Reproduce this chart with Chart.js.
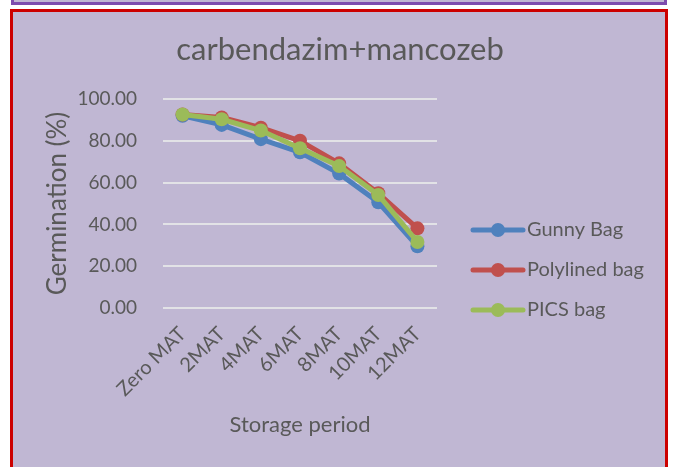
<!DOCTYPE html>
<html>
<head>
<meta charset="utf-8">
<script src="https://cdn.jsdelivr.net/npm/chart.js@4.4.1/dist/chart.umd.min.js"></script>
<style>
    body { margin: 0; background: #FFFFFF; width: 673px; height: 467px; overflow: hidden; position: relative; font-family: Lato, sans-serif; }
    .boxTopo { position: absolute; left: 11px; top: -12px; width: 650px; height: 11px; background: #C0B7D3; border: 3px solid #7E4DAE; }
    .boxGrafico { position: absolute; left: 10px; top: 9px; width: 652px; height: 470px; background: #C0B7D3; border: 3px solid #CC0000; }
    #graficoGerminacao { position: absolute; left: 0; top: 0; }
</style>
</head>
<body>
<div class="boxTopo"></div>
<div class="boxGrafico"></div>
<canvas id="graficoGerminacao" width="673" height="467"></canvas>
<script>
// Dados
const periodos = ['Zero MAT', '2MAT', '4MAT', '6MAT', '8MAT', '10MAT', '12MAT'];
const gunnyBag = [92.0, 87.6, 80.8, 74.5, 64.3, 50.6, 29.5];
const polylinedBag = [92.6, 91.2, 86.3, 80.0, 69.2, 54.9, 38.1];
const picsBag = [92.6, 90.3, 84.9, 76.4, 67.9, 54.1, 31.6];
const tituloGrafico = 'carbendazim+mancozeb';
const tituloY = 'Germination (%)';
const tituloX = 'Storage period';

const corTexto = '#595959';
const fonte = 'Lato';

// titulo desenhado no centro do quadro
const tituloPlugin = {
    id: 'tituloPlugin',
    afterDraw(chart) {
        const ctx = chart.ctx;
        ctx.save();
        ctx.font = '31px ' + fonte;
        ctx.fillStyle = corTexto;
        ctx.textAlign = 'center';
        ctx.textBaseline = 'middle';
        ctx.fillText(tituloGrafico, 340, 50);
        ctx.restore();
    }
};

// legenda à direita: linha com bolinha + nome da série
const legendaPlugin = {
    id: 'legendaPlugin',
    afterDraw(chart) {
        const ctx = chart.ctx;
        const x0 = chart.chartArea.right + 36;
        ctx.save();
        ctx.font = '20px ' + fonte;
        ctx.textBaseline = 'middle';
        chart.data.datasets.forEach((ds, i) => {
            const y = 230 + i * 40;
            ctx.strokeStyle = ds.borderColor;
            ctx.fillStyle = ds.borderColor;
            ctx.lineWidth = 5;
            ctx.lineCap = 'round';
            ctx.beginPath();
            ctx.moveTo(x0, y);
            ctx.lineTo(x0 + 50, y);
            ctx.stroke();
            ctx.beginPath();
            ctx.arc(x0 + 25, y, 7, 0, Math.PI * 2);
            ctx.fill();
            ctx.fillStyle = corTexto;
            ctx.fillText(ds.label, x0 + 54, y);
        });
        ctx.restore();
    }
};

function serie(label, dados, cor, ordem) {
    return {
        label: label,
        data: dados,
        borderColor: cor,
        backgroundColor: cor,
        pointBackgroundColor: cor,
        pointBorderWidth: 0,
        pointRadius: 7,
        borderWidth: 5,
        borderJoinStyle: 'round',
        borderCapStyle: 'round',
        fill: false,
        order: ordem
    };
}

const ctxGerm = document.getElementById('graficoGerminacao');

const chart = new Chart(ctxGerm, {
    type: 'line',
    data: {
        labels: periodos,
        datasets: [
            serie('Gunny Bag', gunnyBag, '#4F81BD', 3),
            serie('Polylined bag', polylinedBag, '#C0504D', 2),
            serie('PICS bag', picsBag, '#9BBB59', 1)
        ]
    },
    options: {
        responsive: false,
        animation: false,
        layout: {
            padding: { top: 99, left: 30, right: 236, bottom: 20 }
        },
        scales: {
            x: {
                offset: true,
                grid: { display: false },
                border: { display: false },
                ticks: {
                    color: corTexto,
                    font: { family: fonte, size: 20 },
                    minRotation: 45,
                    maxRotation: 45,
                    padding: 6
                },
                title: {
                    display: true,
                    text: tituloX,
                    color: corTexto,
                    font: { family: fonte, size: 22 },
                    padding: { top: 0, bottom: 9 }
                },
                afterFit(eixo) { eixo.height = 139; }
            },
            y: {
                min: 0,
                max: 100,
                grid: { color: '#E2E2E6', lineWidth: 2, drawTicks: false },
                border: { display: false },
                ticks: {
                    stepSize: 20,
                    color: corTexto,
                    font: { family: fonte, size: 19 },
                    padding: 26,
                    callback: (v) => v.toFixed(2)
                },
                title: {
                    display: true,
                    text: tituloY,
                    color: corTexto,
                    font: { family: fonte, size: 26 },
                    padding: { top: 12, bottom: 0 }
                },
                afterFit(eixo) { eixo.width = 133; }
            }
        },
        plugins: {
            tooltip: { enabled: false },
            legend: { display: false }
        }
    },
    plugins: [tituloPlugin, legendaPlugin]
});
</script>
</body>
</html>
